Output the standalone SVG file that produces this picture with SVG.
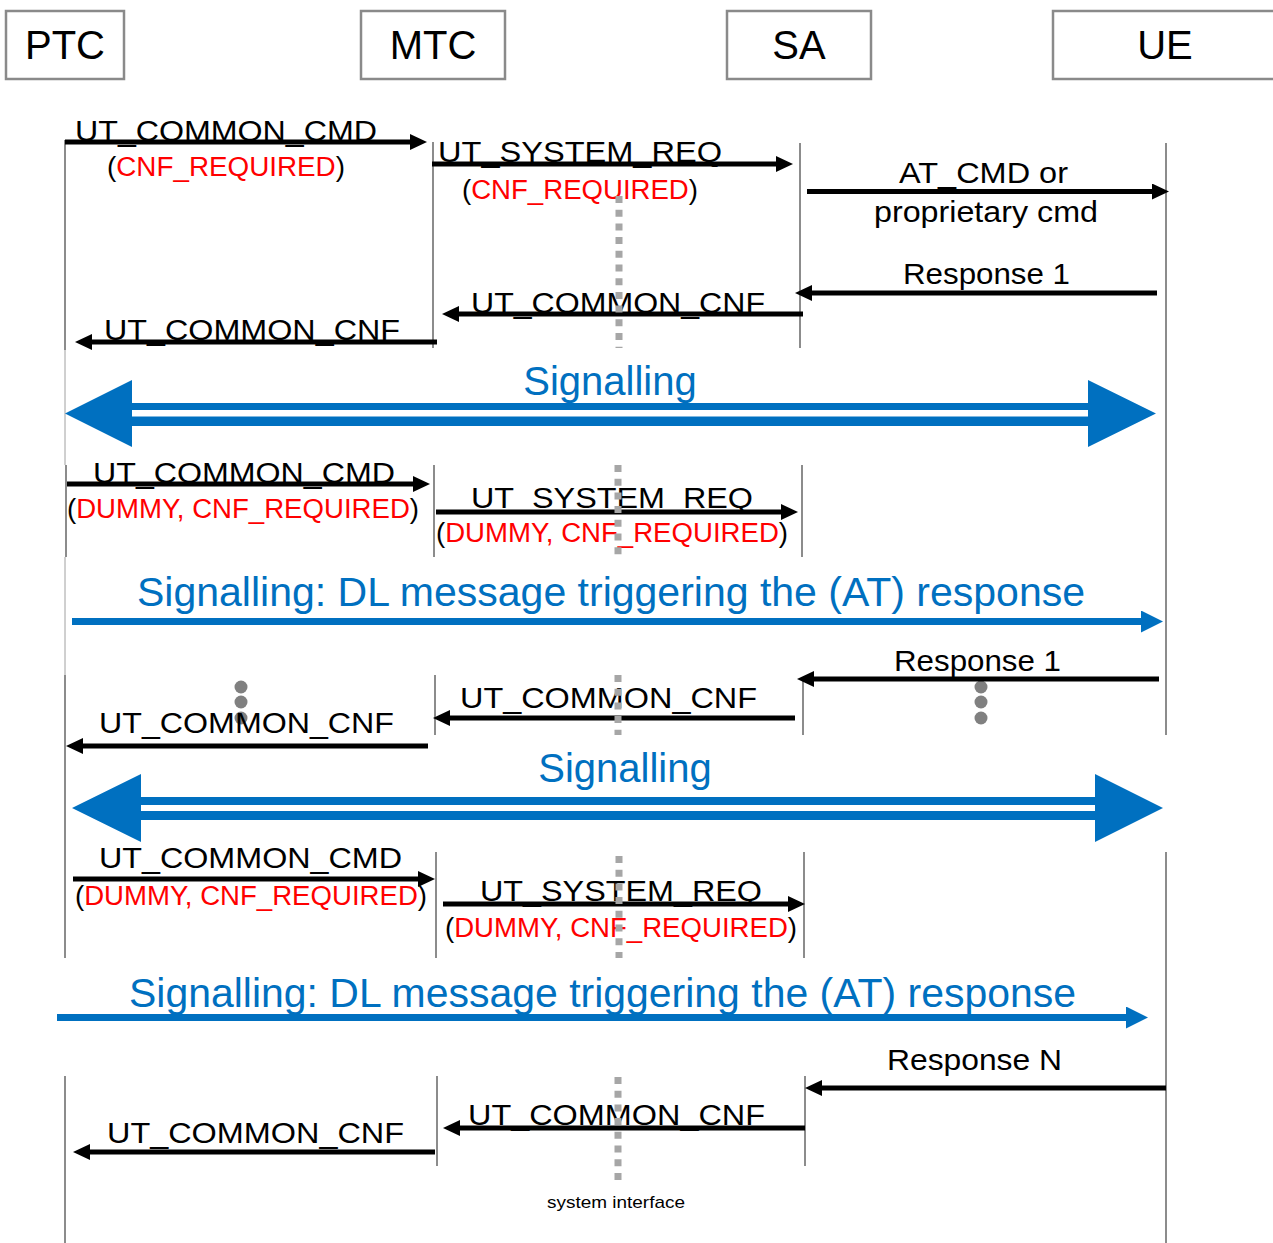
<svg xmlns="http://www.w3.org/2000/svg" width="1273" height="1243" viewBox="0 0 1273 1243">
<style>
.box{fill:#fff;stroke:#8a8a8a;stroke-width:2.5}
.hdr{font-family:"Liberation Sans",Arial,sans-serif;font-size:40px;fill:#000;text-anchor:middle}
.life{stroke:#8c8c8c;stroke-width:2;fill:none}
.thin{stroke:#a0a0a0;stroke-width:1;fill:none}
.sysif{stroke:#a6a6a6;stroke-width:7;stroke-dasharray:7 6.7;fill:none}
.msg{stroke:#000;stroke-width:5;fill:none;marker-end:url(#ah)}
.dl{stroke:#0070c0;stroke-width:7;fill:none;marker-end:url(#bh)}
.lbl{font-family:"Liberation Sans",Arial,sans-serif;font-size:30px;fill:#000}
.sub{font-family:"Liberation Sans",Arial,sans-serif;font-size:27px;fill:#000}
.red{fill:#ff0000}
.blue{font-family:"Liberation Sans",Arial,sans-serif;font-size:40px;fill:#0070c0}
.dot{fill:#808080}
.dbl{fill:#0070c0}
</style>
<defs>
<marker id="ah" markerUnits="userSpaceOnUse" markerWidth="18" markerHeight="17" refX="5" refY="8" orient="auto">
<path d="M0,0 L17,8 L0,16 z" fill="#000"/>
</marker>
<marker id="bh" markerUnits="userSpaceOnUse" markerWidth="23" markerHeight="23" refX="4" refY="11" orient="auto">
<path d="M0,0 L22,11 L0,22 z" fill="#0070c0"/>
</marker>
</defs>
<rect width="1273" height="1243" fill="#fff"/>

<g id="node-PTC"><rect class="box" x="6" y="11" width="118" height="68"/><text class="hdr" x="65" y="59">PTC</text></g>
<g id="node-MTC"><rect class="box" x="361" y="11" width="144" height="68"/><text class="hdr" x="433" y="59">MTC</text></g>
<g id="node-SA"><rect class="box" x="727" y="11" width="144" height="68"/><text class="hdr" x="799" y="59">SA</text></g>
<g id="node-UE"><rect class="box" x="1053" y="11" width="260" height="68"/><text class="hdr" x="1165" y="59">UE</text></g>

<g id="lifelines">
<line class="life" x1="65" y1="140" x2="65" y2="350"/>
<line class="thin" x1="65" y1="350" x2="65" y2="465"/>
<line class="life" x1="66" y1="465" x2="66" y2="557"/>
<line class="thin" x1="65" y1="557" x2="65" y2="675"/>
<line class="life" x1="65" y1="675" x2="65" y2="958"/>
<line class="life" x1="65" y1="1076" x2="65" y2="1243"/>
<line class="life" x1="433" y1="142" x2="433" y2="348"/>
<line class="life" x1="434" y1="465" x2="434" y2="557"/>
<line class="life" x1="435" y1="675" x2="435" y2="735"/>
<line class="life" x1="436" y1="852" x2="436" y2="958"/>
<line class="life" x1="437" y1="1076" x2="437" y2="1166"/>
<line class="life" x1="800" y1="143" x2="800" y2="348"/>
<line class="life" x1="802" y1="465" x2="802" y2="557"/>
<line class="life" x1="803" y1="678" x2="803" y2="735"/>
<line class="life" x1="804" y1="852" x2="804" y2="958"/>
<line class="life" x1="805" y1="1076" x2="805" y2="1166"/>
<line class="life" x1="1166" y1="143" x2="1166" y2="735"/>
<line class="life" x1="1166" y1="852" x2="1166" y2="1243"/>
</g>

<g id="signalling">
<path class="dbl" d="M65,413.5 L132,380 L132,403 L1088,403 L1088,380 L1156,413.5 L1088,447 L1088,426 L132,426 L132,447 Z"/>
<rect x="132" y="410" width="956" height="6.5" fill="#fff"/>
<text class="blue" x="610" y="395" text-anchor="middle">Signalling</text>
<path class="dbl" d="M72,808 L141,774 L141,797 L1095,797 L1095,774 L1163,808 L1095,842 L1095,820 L141,820 L141,842 Z"/>
<rect x="141" y="805" width="954" height="6" fill="#fff"/>
<text class="blue" x="625" y="782" text-anchor="middle">Signalling</text>
<line class="dl" x1="72" y1="621.5" x2="1145" y2="621.5"/>
<text class="blue" x="137" y="606" textLength="948" lengthAdjust="spacingAndGlyphs">Signalling: DL message triggering the (AT) response</text>
<line class="dl" x1="57" y1="1017.5" x2="1130" y2="1017.5"/>
<text class="blue" x="129" y="1007" textLength="947" lengthAdjust="spacingAndGlyphs">Signalling: DL message triggering the (AT) response</text>
</g>

<g id="dots">
<circle class="dot" cx="241" cy="687" r="6.5"/><circle class="dot" cx="241" cy="702" r="6.5"/><circle class="dot" cx="241" cy="718" r="6.5"/>
<circle class="dot" cx="981" cy="687" r="6.5"/><circle class="dot" cx="981" cy="702" r="6.5"/><circle class="dot" cx="981" cy="718" r="6.5"/>
</g>

<g id="connectors">
<line class="msg" x1="65" y1="142" x2="415" y2="142"/>
<text class="lbl" x="75" y="141" textLength="302" lengthAdjust="spacingAndGlyphs">UT_COMMON_CMD</text>
<text class="sub" x="107" y="176" textLength="238" lengthAdjust="spacingAndGlyphs">(<tspan class="red">CNF_REQUIRED</tspan>)</text>

<line class="msg" x1="432" y1="164" x2="781" y2="164"/>
<text class="lbl" x="438" y="162" textLength="284" lengthAdjust="spacingAndGlyphs">UT_SYSTEM_REQ</text>
<text class="sub" x="462" y="199" textLength="236" lengthAdjust="spacingAndGlyphs">(<tspan class="red">CNF_REQUIRED</tspan>)</text>

<line class="msg" x1="807" y1="191.5" x2="1157" y2="191.5"/>
<text class="lbl" x="899" y="183" font-size="29" textLength="169" lengthAdjust="spacingAndGlyphs">AT_CMD or</text>
<text class="lbl" x="874" y="222" font-size="29" textLength="224" lengthAdjust="spacingAndGlyphs">proprietary cmd</text>

<line class="msg" x1="1157" y1="293" x2="807" y2="293"/>
<text class="lbl" x="903" y="284" font-size="29" textLength="167" lengthAdjust="spacingAndGlyphs">Response 1</text>

<line class="msg" x1="803" y1="314" x2="454" y2="314"/>
<text class="lbl" x="471" y="313" textLength="294" lengthAdjust="spacingAndGlyphs">UT_COMMON_CNF</text>

<line class="msg" x1="437" y1="342" x2="87" y2="342"/>
<text class="lbl" x="104" y="340" textLength="296" lengthAdjust="spacingAndGlyphs">UT_COMMON_CNF</text>

<line class="msg" x1="67" y1="484" x2="418" y2="484"/>
<text class="lbl" x="93" y="483" textLength="302" lengthAdjust="spacingAndGlyphs">UT_COMMON_CMD</text>
<text class="sub" x="67" y="518" textLength="352" lengthAdjust="spacingAndGlyphs">(<tspan class="red">DUMMY, CNF_REQUIRED</tspan>)</text>

<line class="msg" x1="436" y1="512" x2="786" y2="512"/>
<text class="lbl" x="471" y="508" textLength="282" lengthAdjust="spacingAndGlyphs">UT_SYSTEM_REQ</text>
<text class="sub" x="436" y="542" textLength="352" lengthAdjust="spacingAndGlyphs">(<tspan class="red">DUMMY, CNF_REQUIRED</tspan>)</text>

<line class="msg" x1="1159" y1="679" x2="809" y2="679"/>
<text class="lbl" x="894" y="671" font-size="29" textLength="167" lengthAdjust="spacingAndGlyphs">Response 1</text>

<line class="msg" x1="795" y1="718" x2="445" y2="718"/>
<text class="lbl" x="460" y="708" textLength="297" lengthAdjust="spacingAndGlyphs">UT_COMMON_CNF</text>

<line class="msg" x1="428" y1="746" x2="78" y2="746"/>
<text class="lbl" x="99" y="733" textLength="295" lengthAdjust="spacingAndGlyphs">UT_COMMON_CNF</text>

<line class="msg" x1="73" y1="879" x2="423" y2="879"/>
<text class="lbl" x="99" y="868" textLength="303" lengthAdjust="spacingAndGlyphs">UT_COMMON_CMD</text>
<text class="sub" x="75" y="905" textLength="352" lengthAdjust="spacingAndGlyphs">(<tspan class="red">DUMMY, CNF_REQUIRED</tspan>)</text>

<line class="msg" x1="443" y1="904" x2="793" y2="904"/>
<text class="lbl" x="480" y="901" textLength="282" lengthAdjust="spacingAndGlyphs">UT_SYSTEM_REQ</text>
<text class="sub" x="445" y="937" textLength="352" lengthAdjust="spacingAndGlyphs">(<tspan class="red">DUMMY, CNF_REQUIRED</tspan>)</text>

<line class="msg" x1="1166" y1="1088" x2="817" y2="1088"/>
<text class="lbl" x="887" y="1070" font-size="29" textLength="175" lengthAdjust="spacingAndGlyphs">Response N</text>

<line class="msg" x1="805" y1="1128" x2="455" y2="1128"/>
<text class="lbl" x="468" y="1125" textLength="297" lengthAdjust="spacingAndGlyphs">UT_COMMON_CNF</text>

<line class="msg" x1="435" y1="1152" x2="85" y2="1152"/>
<text class="lbl" x="107" y="1143" textLength="297" lengthAdjust="spacingAndGlyphs">UT_COMMON_CNF</text>
</g>

<g id="system-interface">
<line class="sysif" x1="619" y1="196" x2="619" y2="348"/>
<line class="sysif" x1="618" y1="465" x2="618" y2="557"/>
<line class="sysif" x1="618" y1="675" x2="618" y2="735"/>
<line class="sysif" x1="619" y1="856" x2="619" y2="958"/>
<line class="sysif" x1="618" y1="1077" x2="618" y2="1181"/>
<text x="547" y="1208" font-family="'Liberation Sans',Arial,sans-serif" font-size="17" textLength="138" lengthAdjust="spacingAndGlyphs">system interface</text>
</g>
</svg>
